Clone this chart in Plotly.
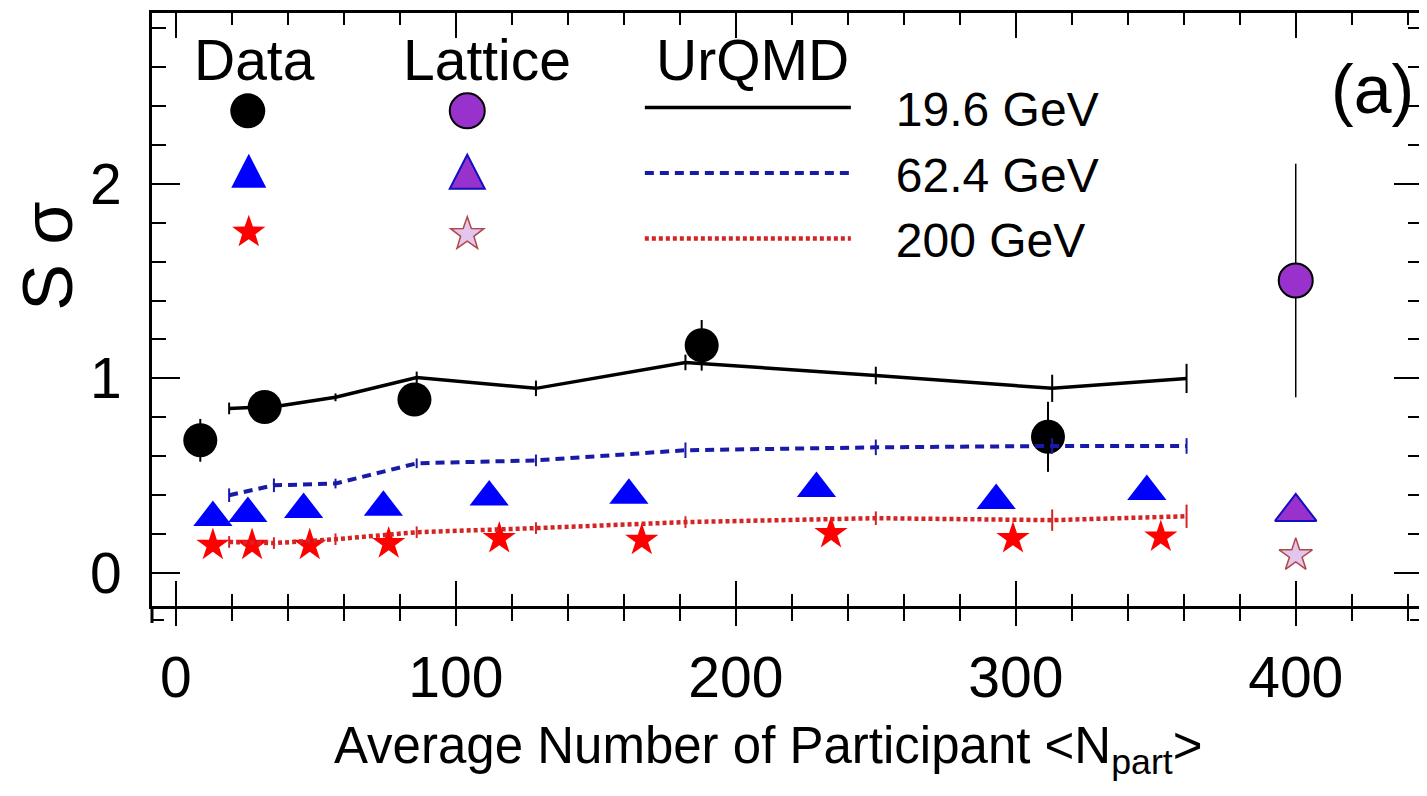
import plotly.graph_objects as go
import math

FONT = "Liberation Sans, Arial, Helvetica, sans-serif"

# ---------------- data ----------------
# STAR data, S*sigma vs <Npart>
npart_19 = [8.7, 31.7, 85.2, 187.8, 311.5]
ss_19 = [0.682, 0.853, 0.892, 1.170, 0.700]
err_19 = [0.11, 0.03, 0.04, 0.13, 0.18]

npart_62 = [13.2, 25.7, 45.6, 74.1, 111.9, 161.8, 228.8, 293.0, 346.8]
ss_62 = [0.285, 0.306, 0.327, 0.338, 0.391, 0.400, 0.434, 0.373, 0.419]

npart_200 = [13.2, 27.2, 47.8, 76.0, 115.5, 166.4, 234.0, 299.0, 351.8]
ss_200 = [0.144, 0.144, 0.144, 0.152, 0.178, 0.169, 0.204, 0.178, 0.186]

# Lattice, drawn at <Npart> = 400
lattice_npart = [400]
lattice_19 = [1.503]
lattice_19_err = [0.60]
lattice_62 = [0.314]
lattice_200 = [0.092]

# UrQMD
urqmd_npart = [19, 35, 57, 86, 128.6, 182, 250, 313, 361]
urqmd_19 = [0.846, 0.855, 0.903, 1.005, 0.949, 1.082, 1.015, 0.949, 1.000]
urqmd_19_err = [0.03, 0.03, 0.02, 0.03, 0.04, 0.04, 0.045, 0.07, 0.075]
urqmd_62 = [0.400, 0.451, 0.460, 0.564, 0.579, 0.631, 0.646, 0.653, 0.653]
urqmd_62_err = [0.035, 0.035, 0.025, 0.025, 0.03, 0.04, 0.04, 0.04, 0.04]
urqmd_200 = [0.160, 0.154, 0.174, 0.210, 0.231, 0.262, 0.282, 0.272, 0.292]
urqmd_200_err = [0.03, 0.03, 0.03, 0.03, 0.03, 0.03, 0.035, 0.055, 0.06]

energy_labels = ["19.6 GeV", "62.4 GeV", "200 GeV"]

x_range = [-8.55, 445.1]
y_range = [-0.169, 2.877]
x_ticks = [0, 100, 200, 300, 400]

BLACK = "#000000"
BLUE = "#0000ff"
RED = "#ff0000"
PURPLE = "#9932cc"
U_BLUE = "#1a1aa8"
U_RED = "#d42424"

fig = go.Figure()

# ---- data markers ----
fig.add_trace(go.Scatter(
    x=npart_19, y=ss_19, mode="markers", showlegend=False,
    marker=dict(symbol="circle", size=34, color=BLACK, line=dict(width=0)),
    error_y=dict(type="data", array=err_19, color=BLACK, thickness=2, width=0)))
fig.add_trace(go.Scatter(
    x=npart_62, y=ss_62, mode="markers", showlegend=False,
    marker=dict(symbol="triangle-up", size=34, color=BLUE, line=dict(width=0))))
fig.add_trace(go.Scatter(
    x=npart_200, y=ss_200, mode="markers", showlegend=False,
    marker=dict(symbol="star", size=25, color=RED, line=dict(width=0))))

# ---- lattice markers (on the overlaid bottom axis, same scale) ----
fig.add_trace(go.Scatter(
    x=lattice_npart, y=lattice_19, mode="markers", showlegend=False, xaxis="x2",
    marker=dict(symbol="circle", size=34, color=PURPLE, line=dict(width=2, color=BLACK)),
    error_y=dict(type="data", array=lattice_19_err, color=BLACK, thickness=1.5, width=0)))
fig.add_trace(go.Scatter(
    x=lattice_npart, y=lattice_62, mode="markers", showlegend=False, xaxis="x2",
    marker=dict(symbol="triangle-up", size=36, color=PURPLE, line=dict(width=2, color="#1010c0"))))
fig.add_trace(go.Scatter(
    x=lattice_npart, y=lattice_200, mode="markers", showlegend=False, xaxis="x2",
    marker=dict(symbol="star", size=25, color="#e2c6ee", line=dict(width=1.5, color="#b04848"))))

# ---- UrQMD lines ----
NB = "&nbsp;&nbsp;&nbsp;"
fig.add_trace(go.Scatter(
    x=urqmd_npart, y=urqmd_19, mode="lines", name=NB + energy_labels[0],
    line=dict(color=BLACK, width=3.5),
    error_y=dict(type="data", array=urqmd_19_err, color=BLACK, thickness=2, width=0)))
fig.add_trace(go.Scatter(
    x=urqmd_npart, y=urqmd_62, mode="lines", name=NB + energy_labels[1],
    line=dict(color=U_BLUE, width=4, dash="9px,6px"),
    error_y=dict(type="data", array=urqmd_62_err, color=U_BLUE, thickness=2, width=0)))
fig.add_trace(go.Scatter(
    x=urqmd_npart, y=urqmd_200, mode="lines", name=NB + energy_labels[2],
    line=dict(color=U_RED, width=4.5, dash="4px,3px"),
    error_y=dict(type="data", array=urqmd_200_err, color=U_RED, thickness=2, width=0)))

# ---------------- layout ----------------
OFF = 8                     # page body margin of the html page
W, H = 1419, 788
L, T = 152 - OFF, 12 - OFF  # plot area left/top in screen px minus offset
RIGHT, BOTTOM = 1425 - OFF, 606 - OFF
R, B = W - RIGHT, H - BOTTOM
pw, ph = RIGHT - L, BOTTOM - T


def px2paper_x(px):
    return (px - OFF - L) / pw


def py2paper_y(py):
    return (BOTTOM - (py - OFF)) / ph


axis_common = dict(showgrid=False, zeroline=False, showline=True,
                   linecolor=BLACK, linewidth=3)

fig.update_layout(
    width=W, height=H,
    margin=dict(l=L, r=R, t=T, b=B),
    paper_bgcolor="white", plot_bgcolor="white",
    font=dict(family=FONT, color=BLACK),
    showlegend=True,
    legend=dict(
        x=px2paper_x(641), y=py2paper_y(69), xanchor="left", yanchor="top",
        bgcolor="rgba(0,0,0,0)", borderwidth=0,
        font=dict(family=FONT, size=48, color=BLACK),
        itemwidth=206, tracegroupgap=0),
    xaxis=dict(range=x_range, **axis_common, mirror="ticks",
               ticks="inside", ticklen=25, tickwidth=2, tickcolor=BLACK,
               tickvals=x_ticks, showticklabels=False,
               minor=dict(dtick=20, ticks="inside", ticklen=12,
                          tickwidth=2, tickcolor=BLACK)),
    xaxis2=dict(range=x_range, matches="x", overlaying="x", anchor="y",
                side="bottom", showgrid=False, zeroline=False, showline=False,
                ticks="outside", ticklen=19, tickwidth=2, tickcolor=BLACK,
                tickvals=x_ticks, ticktext=[str(v) for v in x_ticks],
                tickfont=dict(family=FONT, size=57, color=BLACK),
                ticklabelstandoff=3,
                minor=dict(dtick=20, ticks="outside", ticklen=14,
                           tickwidth=2, tickcolor=BLACK)),
    yaxis=dict(range=y_range, **axis_common, mirror="ticks",
               ticks="inside", ticklen=28, tickwidth=2, tickcolor=BLACK,
               tickvals=[0, 1, 2], ticktext=["0", "1", "2"],
               tickfont=dict(family=FONT, size=57, color=BLACK),
               ticklabelstandoff=16,
               minor=dict(dtick=0.2, ticks="inside", ticklen=14,
                          tickwidth=2, tickcolor=BLACK)),
)

annotations = []
# axis titles
annotations.append(dict(
    text="S σ", textangle=-90, xref="paper", yref="paper",
    x=px2paper_x(47), y=py2paper_y(256), xanchor="center", yanchor="middle",
    showarrow=False, font=dict(family=FONT, size=70, color=BLACK)))
annotations.append(dict(
    text="Average Number of Participant &lt;N<sub>part</sub>&gt;",
    xref="paper", yref="paper", x=px2paper_x(770), y=py2paper_y(750),
    xanchor="center", yanchor="middle", showarrow=False,
    font=dict(family=FONT, size=51, color=BLACK)))
# legend headers
for txt, cx in [("Data", 255), ("Lattice", 488), ("UrQMD", 754)]:
    annotations.append(dict(
        text=txt, xref="paper", yref="paper", x=px2paper_x(cx),
        y=py2paper_y(59), xanchor="center", yanchor="middle",
        showarrow=False, font=dict(family=FONT, size=57, color=BLACK)))
annotations.append(dict(
    text="(a)", xref="paper", yref="paper", x=px2paper_x(1375),
    y=py2paper_y(88), xanchor="center", yanchor="middle",
    showarrow=False, font=dict(family=FONT, size=68, color=BLACK)))
fig.update_layout(annotations=annotations)


# ---- legend key symbols for Data / Lattice columns (fixed pixel size) ----
def star_path(r_out, ratio=0.40):
    pts = []
    for k in range(10):
        ang = math.radians(90 + 36 * k)
        rr = r_out if k % 2 == 0 else r_out * ratio
        pts.append(f"{rr * math.cos(ang):.2f},{rr * math.sin(ang) - 1.5:.2f}")
    return "M" + " L".join(pts) + " Z"


TRI = "M-17.5,-17 L17.5,-17 L0,17 Z"

shapes = []


def key(kind, cxp, cyp, fill, line_color, line_w):
    common = dict(xref="paper", yref="paper", xsizemode="pixel",
                  ysizemode="pixel", xanchor=px2paper_x(cxp),
                  yanchor=py2paper_y(cyp), fillcolor=fill,
                  line=dict(color=line_color, width=line_w), layer="above")
    if kind == "circle":
        shapes.append(dict(type="circle", x0=-17.5, x1=17.5, y0=-17.5, y1=17.5, **common))
    elif kind == "tri":
        shapes.append(dict(type="path", path=TRI, **common))
    else:
        shapes.append(dict(type="path", path=star_path(17.5), **common))


key("circle", 248, 110, BLACK, BLACK, 0)
key("tri", 249, 170, BLUE, BLUE, 0)
key("star", 249, 230, RED, RED, 0)
key("circle", 468, 110, PURPLE, BLACK, 2)
key("tri", 468, 171, PURPLE, "#1010c0", 2)
key("star", 468, 232, "#e2c6ee", "#b04848", 1.5)

# stub of the lower panel frame (cropped in the original)
y_stub = py2paper_y(623)
y_tick = py2paper_y(620)
for xs, xt in [(0, px2paper_x(152 + 12)), (1, px2paper_x(1425 - 12))]:
    shapes.append(dict(type="line", xref="paper", yref="paper", x0=xs, x1=xs,
                       y0=0, y1=y_stub, line=dict(color=BLACK, width=3)))
    shapes.append(dict(type="line", xref="paper", yref="paper", x0=xs, x1=xt,
                       y0=y_tick, y1=y_tick, line=dict(color=BLACK, width=2)))

fig.update_layout(shapes=shapes)

fig.write_html("out.html")
